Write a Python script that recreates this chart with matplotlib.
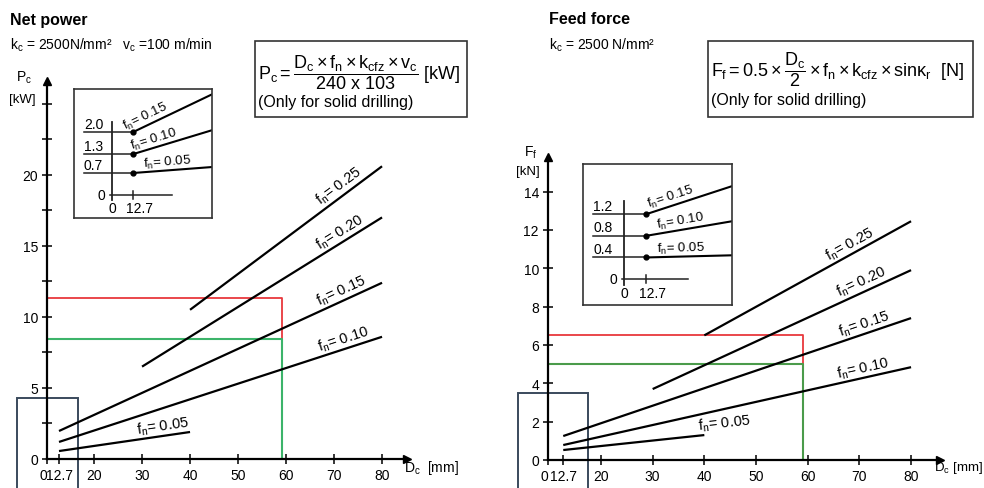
import numpy as np
import matplotlib.pyplot as plt
from matplotlib.patches import Rectangle

plt.rcParams['font.family'] = ['Liberation Sans', 'DejaVu Sans']
plt.rcParams['mathtext.fontset'] = 'custom'
plt.rcParams['mathtext.rm'] = 'Liberation Sans'
plt.rcParams['mathtext.it'] = 'Liberation Sans'
plt.rcParams['mathtext.bf'] = 'Liberation Sans:bold'

# feed rates f_n for the lines
feeds = ["0.25", "0.20", "0.15", "0.10", "0.05"]

# net power lines (D_c in mm, P_c in kW)
power_d_start = [40, 30, 12.7, 12.7, 12.7]
power_d_end = [80, 80, 80, 80, 40]
power_start = [10.5, 6.5, 1.97, 1.2, 0.56]
power_end = [20.6, 17.0, 12.4, 8.6, 1.9]
power_label_d = [72.3, 72.3, 72.5, 72.7, 34.6]

# feed force lines (D_c in mm, F_f in kN)
force_d_start = [40, 30, 12.7, 12.7, 12.7]
force_d_end = [80, 80, 80, 80, 40]
force_start = [6.5, 3.7, 1.25, 0.78, 0.52]
force_end = [12.45, 9.9, 7.4, 4.84, 1.3]
force_label_d = [69.1, 71.3, 71.6, 71.1, 44.0]

# example readings (red / green)
power_ref_d, power_red, power_green = 59.2, 11.3, 8.45
force_ref_d, force_red, force_green = 59.1, 6.5, 5.0

# small insets at D_c = 12.7
inset_feeds = ["0.15", "0.10", "0.05"]
power_inset_levels = [2.0, 1.3, 0.7]
power_inset_ends = [3.2, 2.06, 0.89]
force_inset_levels = [1.2, 0.8, 0.4]
force_inset_ends = [1.72, 1.07, 0.44]

W, H = 984, 489
fig = plt.figure(figsize=(9.84, 4.89), dpi=100)


def px_axes(x0, y0, x1, y1):
    return fig.add_axes([x0 / W, 1 - y1 / H, (x1 - x0) / W, (y1 - y0) / H])


def ftext(x, y, s, **kw):
    fig.text(x / W, 1 - y / H, s, **kw)


def fbox(x0, y0, x1, y1):
    fig.add_artist(Rectangle((x0 / W, 1 - y1 / H), (x1 - x0) / W, (y1 - y0) / H,
                             transform=fig.transFigure, fill=False, lw=1.2, ec='#333333'))


def line_label(ax, x0, y0, x1, y1, xl, text, off=2.0, fs=10, ha='center'):
    yl = y0 + (y1 - y0) * (xl - x0) / (x1 - x0)
    p0 = ax.transData.transform((x0, y0))
    p1 = ax.transData.transform((x1, y1))
    ang = np.degrees(np.arctan2(p1[1] - p0[1], p1[0] - p0[0]))
    t = np.radians(ang)
    ax.annotate(text, (xl, yl), xytext=(-np.sin(t) * off, np.cos(t) * off),
                textcoords='offset points', rotation=ang, rotation_mode='anchor',
                ha=ha, va='bottom', fontsize=fs, annotation_clip=False)


def setup_main(ax, xlim, ylim, major, minor):
    ax.set_xlim(*xlim)
    ax.set_ylim(*ylim)
    for s in ['top', 'right']:
        ax.spines[s].set_visible(False)
    for s in ['left', 'bottom']:
        ax.spines[s].set_linewidth(1.6)
    xt = [xlim[0], 12.7] + list(range(20, 90, 10))
    ax.set_xticks(xt)
    ax.set_xticklabels(['0', '12.7'] + [str(v) for v in range(20, 90, 10)])
    ax.get_xticklabels()[0].set_ha('right')
    ax.set_yticks(major)
    ax.set_yticklabels([f"{v:g}" for v in major])
    ax.set_yticks(minor, minor=True)
    ax.tick_params(which='both', direction='inout', length=7, width=1.1,
                   labelsize=10, pad=3)
    ax.plot(1, 0, '>k', ms=6, transform=ax.transAxes, clip_on=False)
    ax.plot(0, 1, '^k', ms=6, transform=ax.transAxes, clip_on=False)
    ax.patch.set_alpha(0)


def draw_lines(ax, ds, de, ys, ye, lab_d):
    for i in range(len(feeds)):
        ax.plot([ds[i], de[i]], [ys[i], ye[i]], color='black', lw=1.6,
                solid_capstyle='butt')
        line_label(ax, ds[i], ys[i], de[i], ye[i], lab_d[i],
                   r"f$_n$= " + feeds[i], off=1.2, fs=10.5)


def draw_refs(ax, x0, d, red, green, green_col):
    ax.plot([x0, d, d], [red, red, green], color='#e8383d', lw=1.3)
    ax.plot([x0, d, d], [green, green, 0], color=green_col, lw=1.5)


def draw_inset(ax, xlim, ylim, levels, ends, lab_x, axis_top, axis_right):
    ax.set_xlim(*xlim)
    ax.set_ylim(*ylim)
    ax.set_xticks([])
    ax.set_yticks([])
    for s in ax.spines.values():
        s.set_linewidth(1.2)
        s.set_color('#333333')
    span = ylim[1] - ylim[0]
    ax.plot([0, 0], [-0.04 * span, axis_top], color='#222222', lw=1.3)
    ax.plot([-1, axis_right], [0, 0], color='#222222', lw=1.1)
    ax.plot([12.7, 12.7], [-0.03 * span, 0.03 * span], color='#222222', lw=1.1)
    x_left = xlim[0] + 6
    for i in range(len(levels)):
        ax.plot([x_left, 12.7], [levels[i], levels[i]], color='#222222', lw=1.1)
        ax.plot([12.7, xlim[1]], [levels[i], ends[i]], color='black', lw=1.5)
        ax.plot(12.7, levels[i], 'o', color='black', ms=3.5)
        ax.text(x_left, levels[i] + 0.01 * span, f"{levels[i]:.1f}",
                ha='left', va='bottom', fontsize=10)
        line_label(ax, 12.7, levels[i], xlim[1], ends[i], lab_x[i],
                   r"f$_n$= " + inset_feeds[i], off=1.2, fs=9.5)
    ax.text(-4, 0, "0", ha='right', va='center', fontsize=10)
    ax.text(0, -0.05 * span, "0", ha='center', va='top', fontsize=10)
    ax.text(12.7 - 4, -0.05 * span, "12.7", ha='left', va='top', fontsize=10)


# ---------------- Net power ----------------
ax1 = px_axes(47, 82, 407, 460)
setup_main(ax1, (10.2, 85.2), (0, 26.6), [0, 5, 10, 15, 20],
           [2.5, 7.5, 12.5, 17.5, 22.5, 25])
draw_refs(ax1, 10.2, power_ref_d, power_red, power_green, '#3cb46a')
draw_lines(ax1, power_d_start, power_d_end, power_start, power_end, power_label_d)
ax1.add_patch(Rectangle((4.0, -5), 12.7, 9.3, fill=False, ec='#3a4a5c', lw=1.4,
                        clip_on=False))

ftext(10, 20, "Net power", fontsize=11.5, fontweight='bold', va='center')
ftext(10, 45, r"k$_c$ = 2500N/mm²   v$_c$ =100 m/min", fontsize=10, va='center')
ftext(24, 78, r"P$_c$", fontsize=10, ha='center', va='center')
ftext(22, 100, "[kW]", fontsize=9.5, ha='center', va='center')
ftext(404, 468, r"D$_c$  [mm]", fontsize=10, ha='left', va='center')

fbox(255, 42, 467, 118)
ftext(258, 73, r"$P_c = \dfrac{D_c \times f_n \times k_{cfz} \times v_c}{240\ \mathrm{x}\ 103}$ [kW]",
      fontsize=13, ha='left', va='center')
ftext(258, 103, "(Only for solid drilling)", fontsize=11.5, ha='left', va='center')

in1 = px_axes(74, 90, 212, 219)
draw_inset(in1, (-23.0, 60.5), (-0.73, 3.37), power_inset_levels, power_inset_ends,
           [22.4, 26.6, 33.9], 2.32, 36.3)

# ---------------- Feed force ----------------
ax2 = px_axes(548, 158, 940, 461)
setup_main(ax2, (9.75, 85.6), (0, 15.8), [0, 2, 4, 6, 8, 10, 12, 14], [])
draw_refs(ax2, 9.75, force_ref_d, force_red, force_green, '#4b9b4b')
draw_lines(ax2, force_d_start, force_d_end, force_start, force_end, force_label_d)
ax2.add_patch(Rectangle((4.0, -3), 13.5, 6.5, fill=False, ec='#3a4a5c', lw=1.4,
                        clip_on=False))

ftext(549, 20, "Feed force", fontsize=11.5, fontweight='bold', va='center')
ftext(549, 45, r"k$_c$ = 2500 N/mm²", fontsize=10, va='center')
ftext(531, 153, r"F$_f$", fontsize=10, ha='center', va='center')
ftext(528, 172, "[kN]", fontsize=9.5, ha='center', va='center')
ftext(934, 468, r"D$_c$ [mm]", fontsize=9.5, ha='left', va='center')

fbox(708, 42, 973, 118)
ftext(711, 70, r"$F_f = 0.5 \times \dfrac{D_c}{2} \times f_n \times k_{cfz} \times \mathrm{sin}\kappa_r$  [N]",
      fontsize=13, ha='left', va='center')
ftext(711, 101, "(Only for solid drilling)", fontsize=11.5, ha='left', va='center')

in2 = px_axes(583, 165, 732, 306)
draw_inset(in2, (-23.7, 62.4), (-0.48, 2.13), force_inset_levels, force_inset_ends,
           [28.3, 33.5, 33.0], 1.44, 37.0)

fig.savefig("out.png", dpi=100)
